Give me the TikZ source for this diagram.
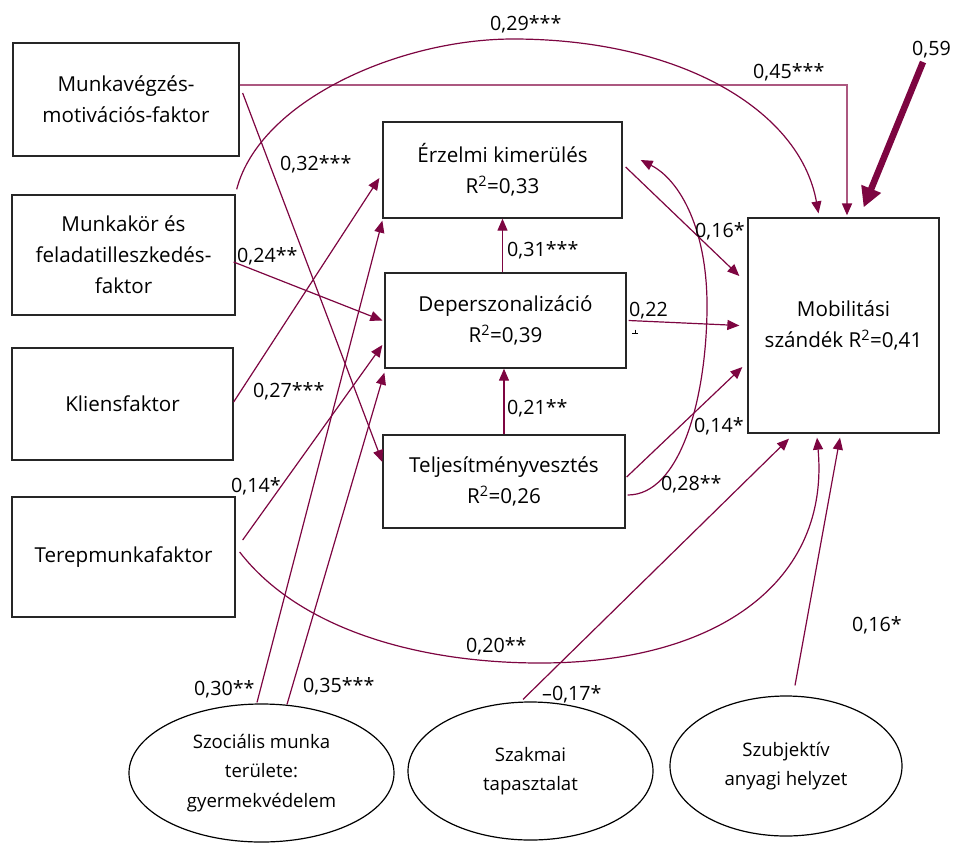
\documentclass[tikz,border=0pt]{standalone}
\usepackage{fontspec}
\setmainfont{Open Sans}
\usetikzlibrary{arrows.meta,shapes.geometric}
\definecolor{arr}{RGB}{125,5,65}
\definecolor{arrlight}{RGB}{172,88,128}
\begin{document}
\begin{tikzpicture}[x=1pt,y=-1pt,
 box/.style={draw=black!85,line width=1.3pt,rectangle,inner sep=0pt,align=center,font=\fontsize{20.6}{31}\selectfont},
 oval/.style={draw=black,line width=1.2pt,ellipse,inner sep=0pt,align=center,font=\fontsize{18.6}{29.5}\selectfont},
 lbl/.style={anchor=base west,inner sep=0pt,font=\fontsize{19.7}{24}\selectfont},
 con/.style={draw=arr,line width=1.2pt,-{Triangle[length=12pt,width=10pt]}},
]
\useasboundingbox (0,0) rectangle (953,844);

% boxes
\node[box,minimum width=226pt,minimum height=113pt] (mv) at (126,99.5) {Munkavégzés-\\motivációs-faktor};
\node[box,minimum width=223pt,minimum height=120pt] (mk) at (123.5,255) {Munkakör és\\feladatilleszkedés-\\faktor};
\node[box,minimum width=221pt,minimum height=112pt] (kl) at (122.5,404) {Kliensfaktor};
\node[box,minimum width=223pt,minimum height=120pt] (tm) at (123.5,557) {Terepmunkafaktor};
\node[box,minimum width=239pt,minimum height=96pt] (ek) at (502.5,170) {Érzelmi kimerülés\\R\textsuperscript{2}=0,33};
\node[box,minimum width=241pt,minimum height=95pt] (dp) at (505.5,320.5) {Deperszonalizáció\\R\textsuperscript{2}=0,39};
\node[box,minimum width=242pt,minimum height=93pt] (tv) at (504,481.5) {Teljesítményvesztés\\R\textsuperscript{2}=0,26};
\node[box,minimum width=191pt,minimum height=215pt] (mob) at (843.5,325.5) {Mobilitási\\szándék R\textsuperscript{2}=0,41};

% ellipses
\node[oval,minimum width=265pt,minimum height=138pt] (sz) at (261.5,773) {Szociális munka\\területe:\\gyermekvédelem};
\node[oval,minimum width=245pt,minimum height=138pt] (sk) at (530.5,771) {Szakmai\\tapasztalat};
\node[oval,minimum width=232pt,minimum height=140pt] (sa) at (786,766) {Szubjektív\\anyagi helyzet};

% connectors
\draw[con,draw=arrlight,line width=1.8pt,-{Triangle[length=12pt,width=10pt,color=arr]}] ([yshift=14.5pt]mv.east) -| ([xshift=3.5pt,yshift=2pt]mob.north);
\draw[con] ([xshift=3pt,yshift=6.5pt]mv.east) -- ([yshift=19.5pt]tv.west);
\draw[con] ([xshift=-2pt,yshift=-7pt]mk.east) -- ([xshift=-2pt]dp.west);
\draw[con] ([xshift=1pt,yshift=5pt]mk.north east) .. controls (260,100) and (400,39) .. (513,39) .. controls (680,39) and (800,110) .. ([xshift=-25pt,yshift=4pt]mob.north);
\draw[con] ([yshift=2pt]kl.east) -- ([xshift=-3pt,yshift=-8pt]ek.west);
\draw[con] ([xshift=7pt,yshift=17pt]tm.east) -- ([xshift=-2pt,yshift=-24.5pt]dp.west);
\draw[con] ([xshift=4pt,yshift=5pt]tm.east) .. controls (300,630) and (420,663) .. (540,663) .. controls (720,663) and (830,580) .. ([xshift=-26.5pt,yshift=-4pt]mob.south);
\draw[con] ([xshift=-4.5pt,yshift=1pt]sz.north) -- ([yshift=-2pt]ek.south west);
\draw[con] ([xshift=25.5pt,yshift=-1pt]sz.north) -- ([yshift=-4pt]dp.south west);
\draw[con] ([xshift=-3pt]dp.north) -- (ek.south);
\draw[con] (tv.north) -- (tv.north |- dp.south);
\draw[con] ([xshift=3pt,yshift=3pt]ek.east) -- ([xshift=-8pt,yshift=49.5pt]mob.west);
\draw[con] ([xshift=2pt]dp.east) -- ([xshift=-8pt]mob.west);
\draw[con] ([xshift=1pt,yshift=4.5pt]tv.east) -- ([xshift=-5pt,yshift=-41.5pt]mob.west);
\draw[con] ([xshift=2pt,yshift=-13.5pt]tv.east) .. controls (680,495) and (706,400) .. (707,310) .. controls (708,230) and (680,180) .. ([xshift=18pt,yshift=10pt]ek.east);
\draw[con] ([xshift=-7.5pt,yshift=2pt]sk.north) -- ([xshift=-54.5pt,yshift=-5pt]mob.south);
\draw[con] ([xshift=9pt,yshift=10pt]sa.north) -- ([xshift=-3.5pt,yshift=-4pt]mob.south);
\coordinate (e59) at (923,62);
\draw[arr,line width=6.5pt,-{Triangle[length=20pt,width=20pt]}] (e59) -- ([xshift=-76pt,yshift=10pt]mob.north east);

% labels
\node[lbl] (l29) at (490,30) {0,29***};
\node[lbl] (l45) at (753,78) {0,45***};
\node[lbl] (l59) at (912,55) {0,59};
\node[lbl] (l32) at (280,170) {0,32***};
\node[lbl] (l24) at (237,262) {0,24**};
\node[lbl] (l27) at (253,397) {0,27***};
\node[lbl] (l14a) at (231,492) {0,14*};
\node[lbl] (l31) at (507,256) {0,31***};
\node[lbl] (l21) at (507,414) {0,21**};
\node[lbl] (l16a) at (695,237) {0,16*};
\node[lbl] (l22) at (629,316) {0,22};
\node[lbl] (l14b) at (694,432) {0,14*};
\node[lbl] (l28) at (661,490) {0,28**};
\node[lbl] (l20) at (466,652) {0,20**};
\node[lbl] (l17) at (542,700) {–0,17*};
\node[lbl] (l16b) at (852,631) {0,16*};
\node[lbl] (l30) at (194,695) {0,30**};
\node[lbl] (l35) at (303,692) {0,35***};
% small cut-off mark under 0,22
\draw[black,line width=1pt] (632,333.5) -- (638,333.5);
\draw[black,line width=1pt] (635,329.5) -- (635,334);
\end{tikzpicture}
\end{document}
